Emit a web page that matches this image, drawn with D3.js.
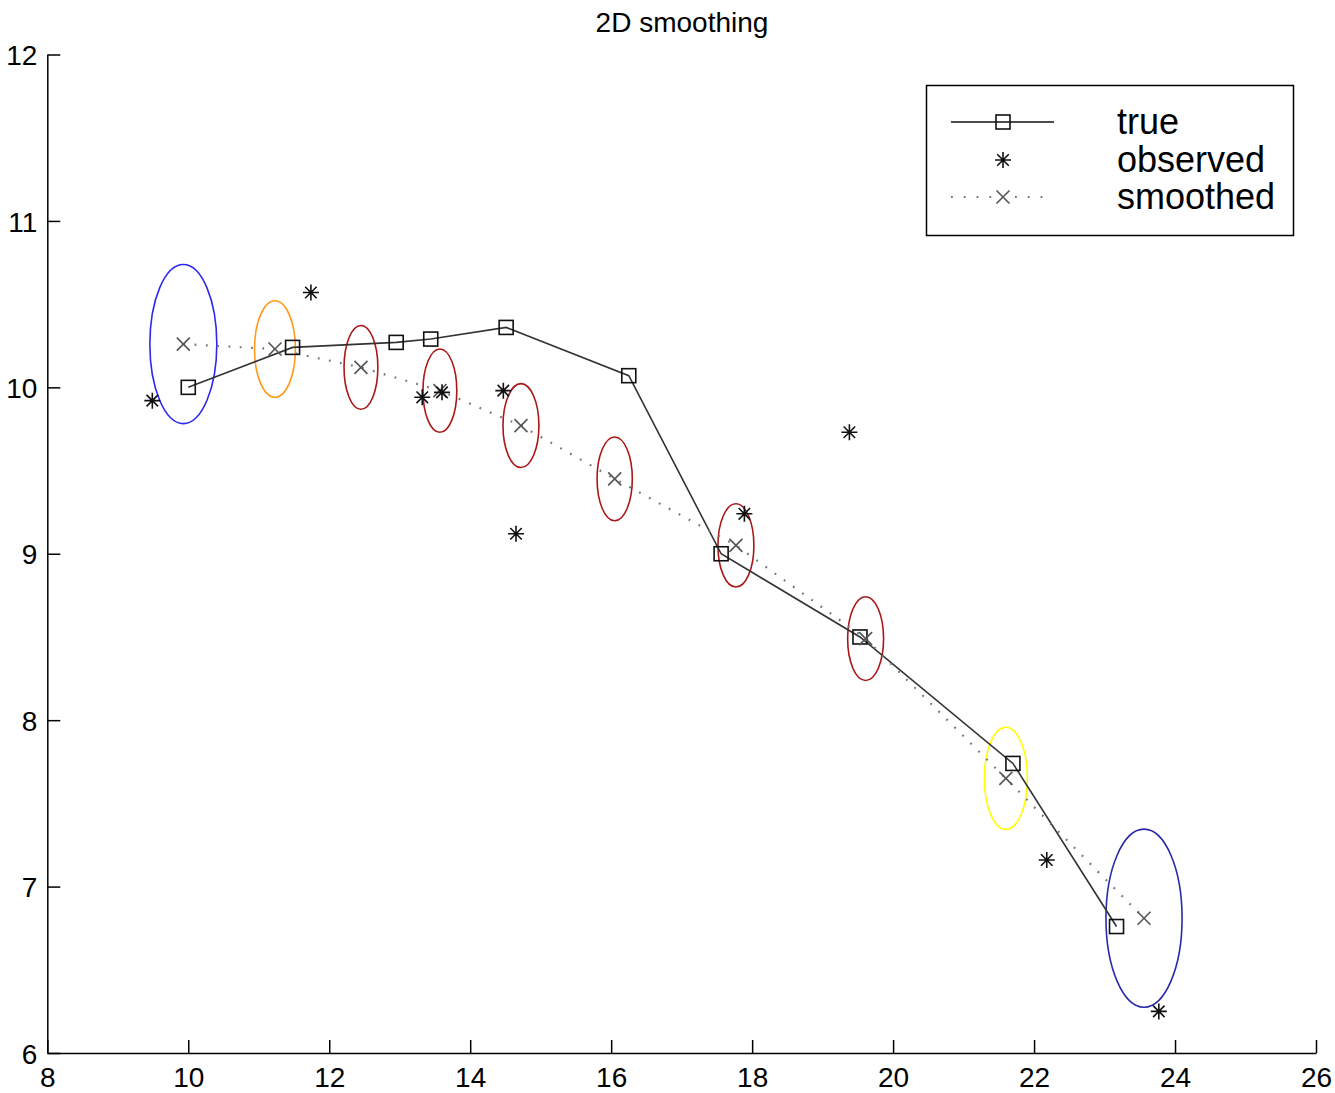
<!DOCTYPE html>
<html><head><meta charset="utf-8">
<script src="https://cdn.jsdelivr.net/npm/d3@7"></script>
<style>body{margin:0;background:#fff}svg{display:block}text{font-family:"Liberation Sans",Arial,sans-serif}</style>
</head><body><svg id="c" width="1335" height="1093"></svg>
<script>
const trueX = [10.00, 11.48, 12.95, 13.44, 14.51, 16.25, 17.56, 19.53, 21.70, 23.17];
const trueY = [10.00, 10.24, 10.27, 10.29, 10.36, 10.07, 9.00, 8.50, 7.74, 6.76];
const obsX = [9.49, 11.74, 13.32, 13.60, 14.47, 14.65, 17.89, 19.38, 22.18, 23.77];
const obsY = [9.92, 10.57, 9.94, 9.97, 9.98, 9.12, 9.24, 9.73, 7.16, 6.25];
const smX = [9.93, 11.23, 12.45, 13.57, 14.72, 16.05, 17.77, 19.61, 21.60, 23.56];
const smY = [10.26, 10.23, 10.12, 9.98, 9.77, 9.45, 9.05, 8.49, 7.65, 6.81];
const ellRx = [0.475, 0.29, 0.24, 0.24, 0.255, 0.25, 0.255, 0.255, 0.305, 0.54];
const ellRy = [0.478, 0.29, 0.252, 0.25, 0.252, 0.252, 0.25, 0.252, 0.307, 0.535];
const ellColor = ["#2a2af0", "#ff9a1a", "#a81818", "#a81818", "#a81818", "#a81818", "#a81818", "#a81818", "#ffff00", "#2a2aa8"];
const xTicks = [8, 10, 12, 14, 16, 18, 20, 22, 24, 26];
const yTicks = [6, 7, 8, 9, 10, 11, 12];
const legendLabels = ["true", "observed", "smoothed"];

const svg = d3.select("#c");
const x = d3.scaleLinear().domain([8, 26]).range([47.3, 1316]);
const y = d3.scaleLinear().domain([6, 12]).range([1053, 54.5]);

// title
svg.append("text").attr("x", 682).attr("y", 32).attr("text-anchor", "middle")
  .attr("font-size", 28).attr("fill", "#000").text("2D smoothing");

// axes
const xa = svg.append("g").attr("transform", `translate(0,${y(6)})`)
  .call(d3.axisBottom(x).tickValues(xTicks).tickSizeInner(-13).tickSizeOuter(0).tickPadding(10).tickFormat(d3.format("d")));
const ya = svg.append("g").attr("transform", `translate(${x(8)},0)`)
  .call(d3.axisLeft(y).tickValues(yTicks).tickSizeInner(-13).tickSizeOuter(0).tickPadding(10).tickFormat(d3.format("d")));
[xa, ya].forEach(g => {
  g.select(".domain").attr("stroke", "#000").attr("stroke-width", 1.5);
  g.selectAll(".tick line").attr("stroke", "#000").attr("stroke-width", 1.5);
  g.selectAll(".tick text").attr("font-size", 28).attr("fill", "#000")
   .style("font-family", '"Liberation Sans",Arial,sans-serif');
});
xa.selectAll(".tick text").attr("dy", "0.85em");
ya.selectAll(".tick text").attr("dy", "0.36em");

// ellipses
svg.append("g").selectAll("ellipse").data(smX).join("ellipse")
  .attr("cx", (d) => x(d)).attr("cy", (d, i) => y(smY[i]))
  .attr("rx", (d, i) => x(8 + ellRx[i]) - x(8))
  .attr("ry", (d, i) => y(6) - y(6 + ellRy[i]))
  .attr("fill", "none").attr("stroke", (d, i) => ellColor[i]).attr("stroke-width", 1.6);

// true line
const trueLine = d3.line().x(d => x(d[0])).y(d => y(d[1]));
svg.append("path").datum(trueX.map((v, i) => [v, trueY[i]])).attr("d", trueLine)
  .attr("fill", "none").attr("stroke", "#333").attr("stroke-width", 1.6);

// smoothed dotted
svg.append("path").datum(smX.map((v, i) => [v, smY[i]])).attr("d", trueLine)
  .attr("fill", "none").attr("stroke", "#777").attr("stroke-width", 2.2)
  .attr("stroke-dasharray", "1.8,9.5");

function square(g, cx, cy) {
  g.append("rect").attr("x", cx - 7).attr("y", cy - 7).attr("width", 14).attr("height", 14)
   .attr("fill", "none").attr("stroke", "#111").attr("stroke-width", 1.6);
}
function star(g, cx, cy) {
  const r = 8, d = r * 0.72;
  g.append("path").attr("d", `M${cx - r},${cy}H${cx + r}M${cx},${cy - r}V${cy + r}M${cx - d},${cy - d}L${cx + d},${cy + d}M${cx - d},${cy + d}L${cx + d},${cy - d}`)
   .attr("stroke", "#111").attr("stroke-width", 1.6).attr("fill", "none");
}
function cross(g, cx, cy) {
  const r = 6.5;
  g.append("path").attr("d", `M${cx - r},${cy - r}L${cx + r},${cy + r}M${cx - r},${cy + r}L${cx + r},${cy - r}`)
   .attr("stroke", "#555").attr("stroke-width", 1.6).attr("fill", "none");
}

const mk = svg.append("g");
trueX.forEach((v, i) => square(mk, x(v), y(trueY[i])));
smX.forEach((v, i) => cross(mk, x(v), y(smY[i])));
obsX.forEach((v, i) => star(mk, x(v), y(obsY[i])));

// legend
const lg = svg.append("g");
lg.append("rect").attr("x", 926.5).attr("y", 85.5).attr("width", 367).attr("height", 150)
  .attr("fill", "#fff").attr("stroke", "#000").attr("stroke-width", 1.5);
const ly = [122, 160, 197];
lg.append("line").attr("x1", 951).attr("x2", 1054).attr("y1", ly[0]).attr("y2", ly[0])
  .attr("stroke", "#111").attr("stroke-width", 1.6);
square(lg, 1003, ly[0]);
star(lg, 1003, ly[1]);
lg.append("line").attr("x1", 951).attr("x2", 1046).attr("y1", ly[2]).attr("y2", ly[2])
  .attr("stroke", "#777").attr("stroke-width", 2.2).attr("stroke-dasharray", "1.8,11");
cross(lg, 1003, ly[2]);
legendLabels.forEach((t, i) => {
  lg.append("text").attr("x", 1117).attr("y", ly[i] + 12).attr("font-size", 36).attr("fill", "#000").text(t);
});
</script></body></html>
